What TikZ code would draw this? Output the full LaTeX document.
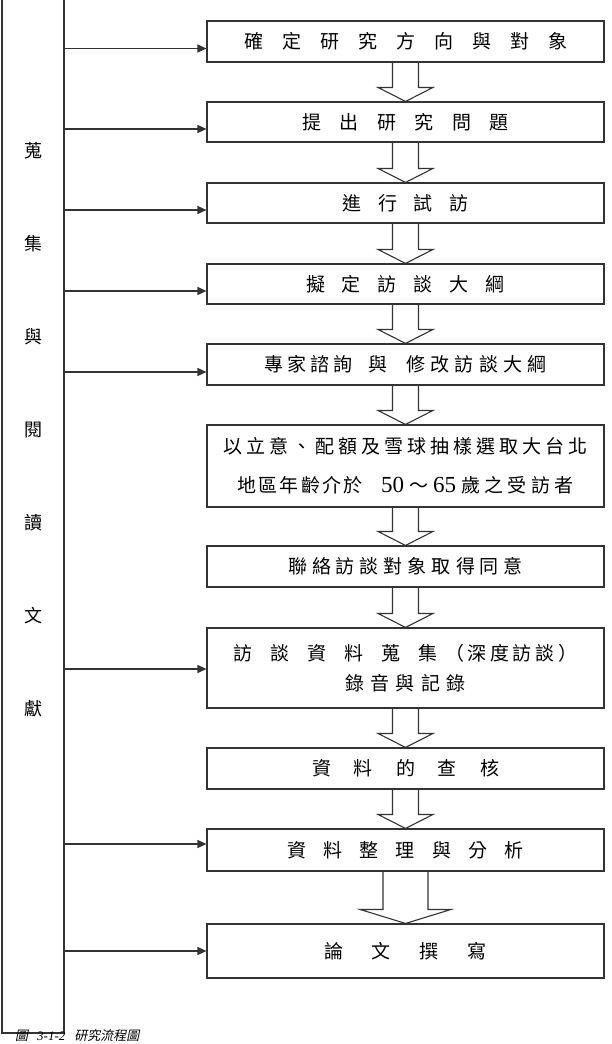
\documentclass[tikz,border=0pt]{standalone}
\usepackage{fontspec}
\setmainfont{Liberation Serif}
\newfontfamily\cjk{Noto Sans CJK TC}
\newfontfamily\cjkit[FakeSlant=0.2]{Noto Sans CJK TC}
\usetikzlibrary{arrows.meta,calc}
\makeatletter
\newcommand\spc[2]{\def\spc@g{}\@tfor\spc@c:=#2\do{\spc@g\spc@c\def\spc@g{\hspace{#1pt}}}}
\makeatother
\tikzset{
  box/.style={draw=black!80, line width=1.1pt, minimum width=397pt, inner sep=0pt,
    font=\cjk\fontsize{19}{22}\selectfont, align=center},
  conn/.style={draw=black!80, line width=1.1pt, -{Triangle[length=9pt,width=8pt]}},
  barrow/.style={draw=black!80, line width=1.1pt, line join=miter},
}
\newcommand\blockarr[4]{%
  \draw[barrow] ($(#1.south)+(-#3,0)$) -- ($(#2.north)+(-#3,-14)$) -- ($(#2.north)+(-#4,-14)$)
    -- (#2.north) -- ($(#2.north)+(#4,-14)$) -- ($(#2.north)+(#3,-14)$) -- ($(#1.south)+(#3,0)$);}
\begin{document}
\begin{tikzpicture}[x=1pt,y=-1pt]
\useasboundingbox (0,0) rectangle (611,1044);
% left literature box
\node[draw=black!80, line width=1.1pt, minimum width=62pt, minimum height=1043pt, inner sep=0pt] (lit) at (33,511.5) {};
\node[font=\cjk\fontsize{18}{93}\selectfont, align=center, inner sep=0pt] (littext) at (33,430) {蒐\\集\\與\\閱\\讀\\文\\獻};
% process boxes
\node[box, minimum height=41pt] (b1) at (405.5,41.5) {\spc{19}{確定研究方向與對象}};
\node[box, minimum height=40pt] (b2) at (405.5,122) {\spc{18.6}{提出研究問題}};
\node[box, minimum height=40pt] (b3) at (405.5,203) {\spc{16.5}{進行試訪}};
\node[box, minimum height=40pt] (b4) at (405.5,284) {\spc{17}{擬定訪談大綱}};
\node[box, minimum height=41pt] (b5) at (405.5,364.5) {\spc{4}{專家諮詢}\hspace{16pt}與\hspace{19pt}\spc{5.3}{修改訪談大綱}};
\node[box, minimum height=82pt, font=\cjk\fontsize{19}{39}\selectfont] (b6) at (405.5,466)
  {\spc{4}{以立意、配額及雪球抽樣選取大台北}\\
   \spc{2.4}{地區年齡介於}\hspace{18pt}{\rmfamily\fontsize{23}{39}\selectfont 50}\hspace{5pt}～\hspace{5pt}{\rmfamily\fontsize{23}{39}\selectfont 65}\hspace{5pt}\spc{4.5}{歲之受訪者}};
\node[box, minimum height=41pt] (b7) at (405.5,566.5) {\spc{5}{聯絡訪談對象取得同意}};
\node[box, minimum height=80pt, font=\cjk\fontsize{19}{30}\selectfont] (b8) at (405.5,668)
  {\spc{18}{訪談資料蒐集}\hspace{8pt}（\hspace{3pt}\spc{3.7}{深度訪談}\hspace{4pt}）\\
   \spc{6.4}{錄音與記錄}};
\node[box, minimum height=41pt] (b9) at (405.5,768.5) {\spc{23}{資料的查核}};
\node[box, minimum height=42pt] (b10) at (405.5,850) {\spc{17.3}{資料整理與分析}};
\node[box, minimum height=54pt] (b11) at (405.5,951) {\spc{29}{論文撰寫}};
% block arrows
\blockarr{b1}{b2}{13}{27.5}
\blockarr{b2}{b3}{13}{27.5}
\blockarr{b3}{b4}{13}{27.5}
\blockarr{b4}{b5}{13}{27.5}
\blockarr{b5}{b6}{13}{27.5}
\blockarr{b6}{b7}{13}{27.5}
\blockarr{b7}{b8}{13}{27.5}
\blockarr{b8}{b9}{13}{27.5}
\blockarr{b9}{b10}{13}{27.5}
\blockarr{b10}{b11}{22.5}{45.5}
% connectors from literature box
\coordinate (a1) at ($(b1.west)+(0,7)$);
\coordinate (a2) at ($(b2.west)+(0,7)$);
\coordinate (a3) at ($(b3.west)+(0,7)$);
\coordinate (a4) at ($(b4.west)+(0,7)$);
\coordinate (a5) at ($(b5.west)+(0,7.5)$);
\coordinate (a8) at ($(b8.west)+(0,1)$);
\coordinate (a10) at ($(b10.west)+(0,-6)$);
\coordinate (a11) at (b11.west);
\foreach \a in {a1,a2,a3,a4,a5,a8,a10,a11}
  \draw[conn] (lit.east |- \a) -- (\a);
% caption
\node[anchor=base west, inner sep=0pt, font=\fontsize{13}{15}\selectfont] (cap) at (15,1040.5)
  {{\cjkit 圖}\hspace{9pt}{\itshape 3-1-2}\hspace{9pt}{\cjkit 研究流程圖}};
\end{tikzpicture}
\end{document}
